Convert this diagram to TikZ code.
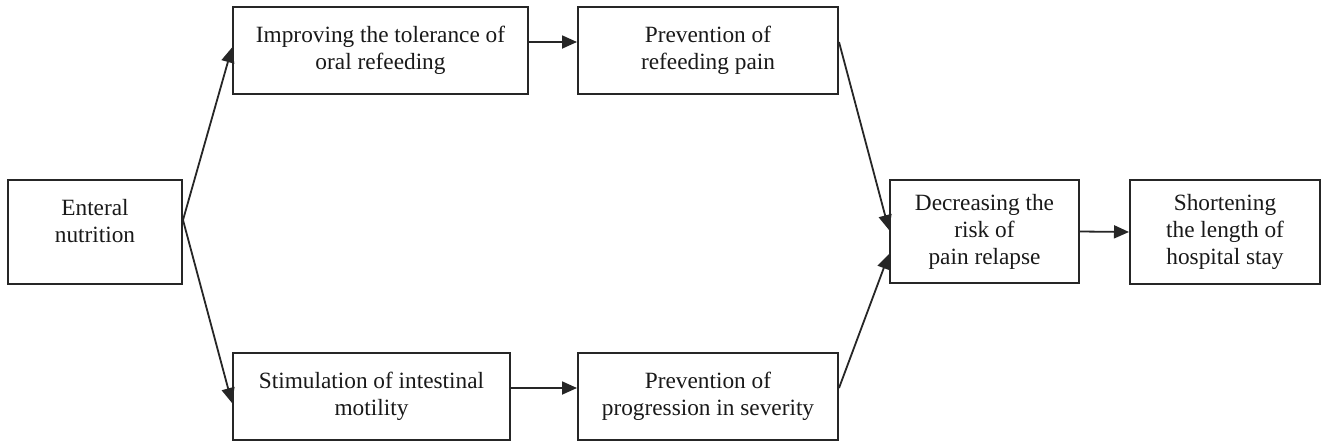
\documentclass[tikz,border=0pt]{standalone}
\usepackage{fontspec}
\setmainfont{Liberation Serif}
\usetikzlibrary{arrows.meta}
\begin{document}
\begin{tikzpicture}[x=1pt,y=-1pt,
  box/.style={draw=black!85, line width=2pt, align=center, inner sep=0pt,
    font=\fontsize{23.3}{27}\selectfont, text=black!90},
  txt/.style={align=center, inner sep=0pt, font=\fontsize{23.3}{27}\selectfont, text=black!90},
  conn/.style={draw=black!85, line width=1.8pt, -{Triangle[length=15pt,width=13pt]}}]
\useasboundingbox (0,0) rectangle (1322,442);
\fill[white] (0,0) rectangle (1322,442);
\node[box, minimum width=174pt, minimum height=104pt] (ent) at (95,232) {};
\node[txt] (entt) at ([yshift=11pt]ent.center) {Enteral\\nutrition};
\node[box, minimum width=295pt, minimum height=87pt] (imp) at (380.5,50.5) {Improving the tolerance of\\oral refeeding};
\node[box, minimum width=260pt, minimum height=87pt] (pre1) at (708,50.5) {Prevention of\\refeeding pain};
\node[box, minimum width=277pt, minimum height=87pt] (stim) at (371.5,396.5) {Stimulation of intestinal\\motility};
\node[box, minimum width=260pt, minimum height=87pt] (pre2) at (708,396.5) {Prevention of\\progression in severity};
\node[box, minimum width=189pt, minimum height=103pt] (dec) at (984.5,231.5) {Decreasing the\\risk of\\pain relapse};
\node[box, minimum width=190pt, minimum height=104pt] (sho) at (1225,232) {Shortening\\the length of\\hospital stay};
\draw[conn] ([yshift=12pt]ent.east) -- ([yshift=3pt]imp.west);
\draw[conn] ([yshift=12pt]ent.east) -- ([yshift=-6.5pt]stim.west);
\draw[conn] ([yshift=8.5pt]imp.east) -- ([yshift=8.5pt]pre1.west);
\draw[conn] ([yshift=8.5pt]stim.east) -- ([yshift=8.5pt]pre2.west);
\draw[conn] ([yshift=8.5pt]pre1.east) -- ([yshift=1.5pt]dec.west);
\draw[conn] ([yshift=8.5pt]pre2.east) -- ([yshift=-22.5pt]dec.west);
\draw[conn] (dec.east) -- (sho.west);
\end{tikzpicture}
\end{document}
